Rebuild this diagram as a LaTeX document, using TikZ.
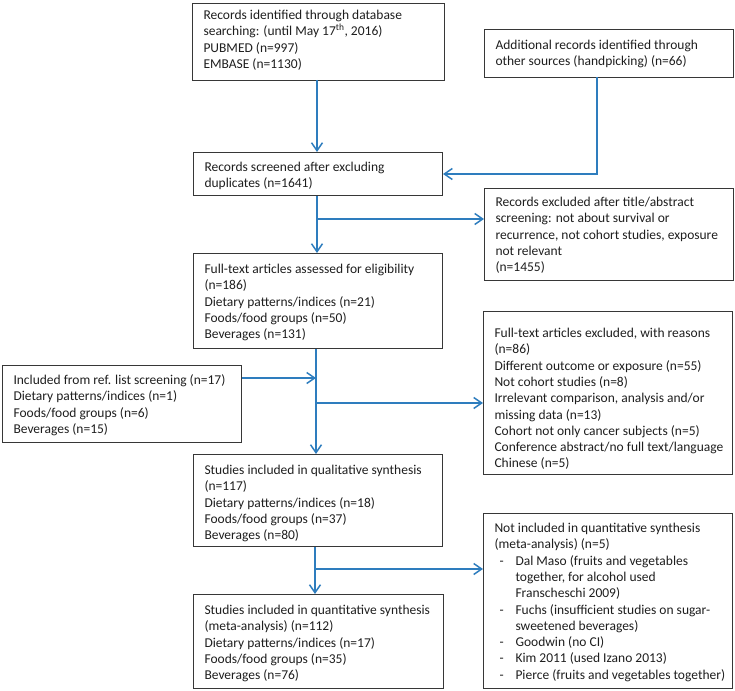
\documentclass[tikz,border=0pt]{standalone}
\usepackage{fontspec}
\setmainfont{Carlito}
\usetikzlibrary{arrows.meta}
\definecolor{lineblue}{RGB}{46,125,190}
\definecolor{boxgray}{RGB}{55,55,55}
\definecolor{txtgray}{RGB}{30,30,30}
\newcommand\fbtext[4]{\parbox[c][#2][t]{#1}{\leftskip=11pt\rightskip=-60pt plus 1fil\parindent=0pt\rule{0pt}{#3}#4}}
\newcommand\itm{\hspace*{5pt}\makebox[16pt][l]{-}}
\newcommand\ind{\hspace*{21pt}}
\begin{document}
\begin{tikzpicture}[x=1pt,y=-1pt,
  fbox/.style={draw=boxgray, line width=1pt, inner sep=0pt, anchor=north west, text=txtgray,
    font=\fontsize{13.5}{16.3}\selectfont},
  arr/.style={draw=lineblue, line width=1.5pt, -{Straight Barb[length=8pt,width=11pt]}}]
\useasboundingbox (0,0) rectangle (735,690);

\node[fbox] (b1) at (192,3) {\fbtext{252pt}{77pt}{16pt}{Records identified through database\\
searching: (until May 17\textsuperscript{th}, 2016)\\
PUBMED (n=997)\\
EMBASE (n=1130)}};

\node[fbox] (b2) at (484,29) {\fbtext{249pt}{48pt}{20pt}{Additional records identified through\\
other sources (handpicking) (n=66)}};

\node[fbox] (b3) at (193,152) {\fbtext{249pt}{43pt}{19pt}{Records screened after excluding\\
duplicates (n=1641)}};

\node[fbox] (b4) at (484,188) {\fbtext{249pt}{92pt}{18pt}{Records excluded after title/abstract\\
screening: not about survival or\\
recurrence, not cohort studies, exposure\\
not relevant\\
(n=1455)}};

\node[fbox] (b5) at (193,253) {\fbtext{249pt}{95pt}{20pt}{Full-text articles assessed for eligibility\\
(n=186)\\
Dietary patterns/indices (n=21)\\
Foods/food groups (n=50)\\
Beverages (n=131)}};

\node[fbox] (b6) at (483,311) {\fbtext{249pt}{163pt}{26pt}{Full-text articles excluded, with reasons\\
(n=86)\\
Different outcome or exposure (n=55)\\
Not cohort studies (n=8)\\
Irrelevant comparison, analysis and/or\\
missing data (n=13)\\
Cohort not only cancer subjects (n=5)\\
Conference abstract/no full text/language\\
Chinese (n=5)}};

\node[fbox] (b7) at (2,365) {\fbtext{239pt}{77pt}{19pt}{Included from ref. list screening (n=17)\\
Dietary patterns/indices (n=1)\\
Foods/food groups (n=6)\\
Beverages (n=15)}};

\node[fbox] (b8) at (193,454) {\fbtext{249pt}{92pt}{20pt}{Studies included in qualitative synthesis\\
(n=117)\\
Dietary patterns/indices (n=18)\\
Foods/food groups (n=37)\\
Beverages (n=80)}};

\node[fbox] (b9) at (483,513) {\fbtext{249pt}{175pt}{19pt}{Not included in quantitative synthesis\\
(meta-analysis) (n=5)\\
\itm Dal Maso (fruits and vegetables\\
\ind together, for alcohol used\\
\ind Franscheschi 2009)\\
\itm Fuchs (insufficient studies on sugar-\\
\ind sweetened beverages)\\
\itm Goodwin (no CI)\\
\itm Kim 2011 (used Izano 2013)\\
\itm Pierce (fruits and vegetables together)}};

\node[fbox] (b10) at (193,594) {\fbtext{250pt}{94pt}{20pt}{Studies included in quantitative synthesis\\
(meta-analysis) (n=112)\\
Dietary patterns/indices (n=17)\\
Foods/food groups (n=35)\\
Beverages (n=76)}};

% junction coordinates
\coordinate (t1) at (317,80);
\coordinate (t2) at (597,77);
\coordinate (j1) at (317,219);
\coordinate (j2) at (316,378);
\coordinate (j3) at (316,403);
\coordinate (j4) at (315,569);

\draw[arr] (t1) -- (t1 |- b3.north);
\draw[arr] (t2) |- (b3.east);
\draw[arr] (b3.south -| j1) -- (j1 |- b5.north);
\draw[arr] (j1) -- (j1 -| b4.west);
\draw[arr] (b5.south -| j2) -- (j2 |- b8.north);
\draw[arr] (j2 -| b7.east) -- (j2);
\draw[arr] (j3) -- (j3 -| b6.west);
\draw[arr] (b8.south -| j4) -- (j4 |- b10.north);
\draw[arr] (j4) -- (j4 -| b9.west);
\end{tikzpicture}
\end{document}
